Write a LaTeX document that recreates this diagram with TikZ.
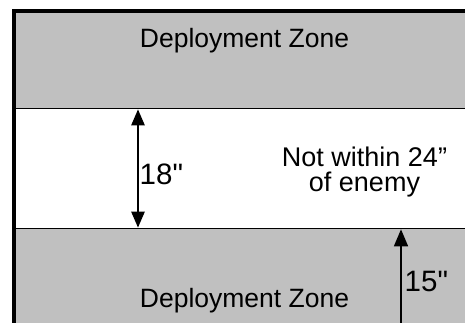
\documentclass[tikz,border=0pt]{standalone}
\usepackage{fontspec}
\setmainfont{Liberation Sans}[Ligatures=TeXOff]
\usetikzlibrary{arrows.meta}
\definecolor{zonegray}{HTML}{C0C0C0}
\tikzset{
  lbl/.style={inner sep=0pt, anchor=base, font=\fontsize{26.5}{30}\selectfont},
  midlbl/.style={inner sep=0pt, anchor=base, align=center, font=\fontsize{27}{25.5}\selectfont},
  numlbl/.style={inner sep=0pt, anchor=base west, font=\fontsize{29.5}{30}\selectfont},
  bigarrow/.style={line width=2.5pt, {Triangle[width=13pt,length=16pt]}-{Triangle[width=13pt,length=16pt]}},
  smallarrow/.style={line width=1.5pt, -{Triangle[width=14pt,length=17pt]}},
  divider/.style={line width=1.5pt},
  frame/.style={line width=4pt}
}
\begin{document}
\begin{tikzpicture}[x=1pt,y=-1pt]
\useasboundingbox (0,0) rectangle (465,323);
\fill[white] (0,0) rectangle (465,323);
% zones
\fill[zonegray] (16,13) rectangle (465,108.5);
\fill[white] (16,108.5) rectangle (465,228.5);
\fill[zonegray] (16,228.5) rectangle (465,323);
\draw[divider] (16,108.5) -- (465,108.5);
\draw[divider] (16,228.5) -- (465,228.5);
% frame
\draw[frame] (14,323) -- (14,11) -- (465,11);
% coordinates
\coordinate (a18top) at (138,109.3);
\coordinate (a18bot) at (138,227.7);
\coordinate (a15top) at (401,229.3);
\coordinate (a15bot) at (401,323);
\draw[bigarrow] (a18top) -- (a18bot);
\draw[smallarrow] (a15bot) -- (a15top);
% labels
\node[lbl] (dztop) at (244.5,48) {Deployment Zone};
\node[lbl] (dzbot) at (244.5,307) {Deployment Zone};
\node[midlbl] (nw) at (364.5,191.5) {Not within 24”\\of enemy};
\node[numlbl] (n18) at (139.5,184.5) {18"};
\node[numlbl] (n15) at (404.5,291.5) {15"};
\end{tikzpicture}
\end{document}
